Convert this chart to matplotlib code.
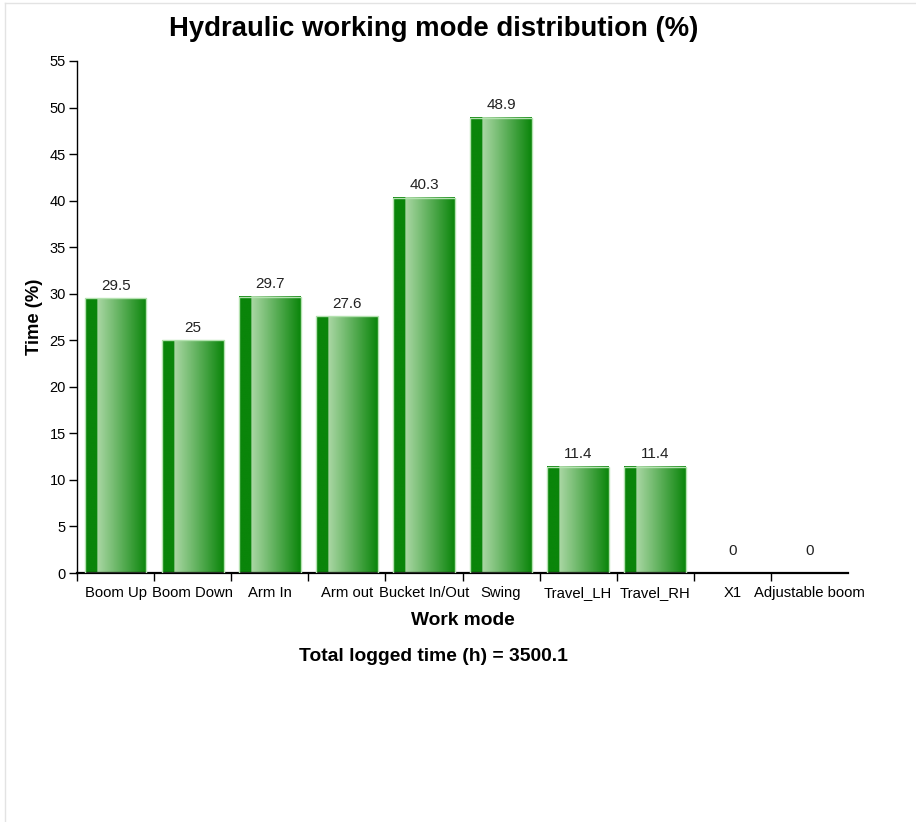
import matplotlib
matplotlib.use('Agg')
import matplotlib.pyplot as plt
from matplotlib.colors import LinearSegmentedColormap
from matplotlib.lines import Line2D
import numpy as np

plt.rcParams['font.family'] = ['Liberation Sans', 'DejaVu Sans']

# data
modes = ['Boom Up', 'Boom Down', 'Arm In', 'Arm out', 'Bucket In/Out', 'Swing',
         'Travel_LH', 'Travel_RH', 'X1', 'Adjustable boom']
time_pct = [29.5, 25, 29.7, 27.6, 40.3, 48.9, 11.4, 11.4, 0, 0]
value_labels = ['29.5', '25', '29.7', '27.6', '40.3', '48.9', '11.4', '11.4', '0', '0']
total_hours = 3500.1

dark = '#0a850a'
light = '#aad7a4'
# dark strip on the left, then light fading back to dark
bar_cmap = LinearSegmentedColormap.from_list(
    'bar', [(0.0, dark), (0.199, dark), (0.2, light), (1.0, dark)])
grad = np.linspace(0, 1, 256).reshape(1, -1)

fig = plt.figure(figsize=(9.16, 8.22), dpi=100)
ax = fig.add_axes([0.0841, 0.3029, 0.8417, 0.6229])

bar_w = 0.8
x = np.arange(len(modes))
for xi, v, lab in zip(x, time_pct, value_labels):
    if v > 0:
        ax.imshow(grad, extent=[xi - bar_w / 2, xi + bar_w / 2, 0, v],
                  cmap=bar_cmap, aspect='auto', interpolation='bilinear', zorder=2)
        ax.bar(xi, v, width=bar_w, facecolor='none', edgecolor='#b4e2b0',
               linewidth=1.0, zorder=3)
    ax.annotate(lab, (xi, max(v, 1)), xytext=(0, 4), textcoords='offset points',
                ha='center', va='bottom', fontsize=11, color='#222222')

ax.set_xlim(-0.5, len(modes) - 0.5)
ax.set_ylim(0, 55)
ax.set_aspect('auto')

ax.set_yticks(np.arange(0, 56, 5))
ax.tick_params(axis='y', direction='out', length=6, width=1, pad=2, labelsize=10.5)

# tick marks at band starts, labels at band centres
ax.set_xticks(x - 0.5)
ax.set_xticklabels([])
ax.set_xticks(x, minor=True)
ax.set_xticklabels(modes, minor=True, fontsize=10.7)
ax.tick_params(axis='x', which='major', direction='out', length=6, width=1)
ax.tick_params(axis='x', which='minor', length=0, pad=9)

for s in ['top', 'right']:
    ax.spines[s].set_visible(False)
ax.spines['left'].set_linewidth(1.0)
ax.spines['bottom'].set_linewidth(1.6)

ax.set_xlabel('Work mode', fontsize=13.8, fontweight='bold', labelpad=9)
ax.set_ylabel('Time (%)', fontsize=13.2, fontweight='bold', labelpad=5)

fig.text(0.473, 1 - 29 / 822, 'Hydraulic working mode distribution (%)', ha='center',
         va='center', fontsize=19.8, fontweight='bold')
fig.text(0.473, 1 - 656 / 822, 'Total logged time (h) = %s' % total_hours,
         ha='center', va='center', fontsize=13.9, fontweight='bold')

# faint card border on left and top
fig.add_artist(Line2D([0.006, 0.006], [0, 0.996], transform=fig.transFigure,
                      color='#e3e3e3', lw=1))
fig.add_artist(Line2D([0.006, 1], [0.996, 0.996], transform=fig.transFigure,
                      color='#e3e3e3', lw=1))

fig.savefig('out.png', dpi=100)
